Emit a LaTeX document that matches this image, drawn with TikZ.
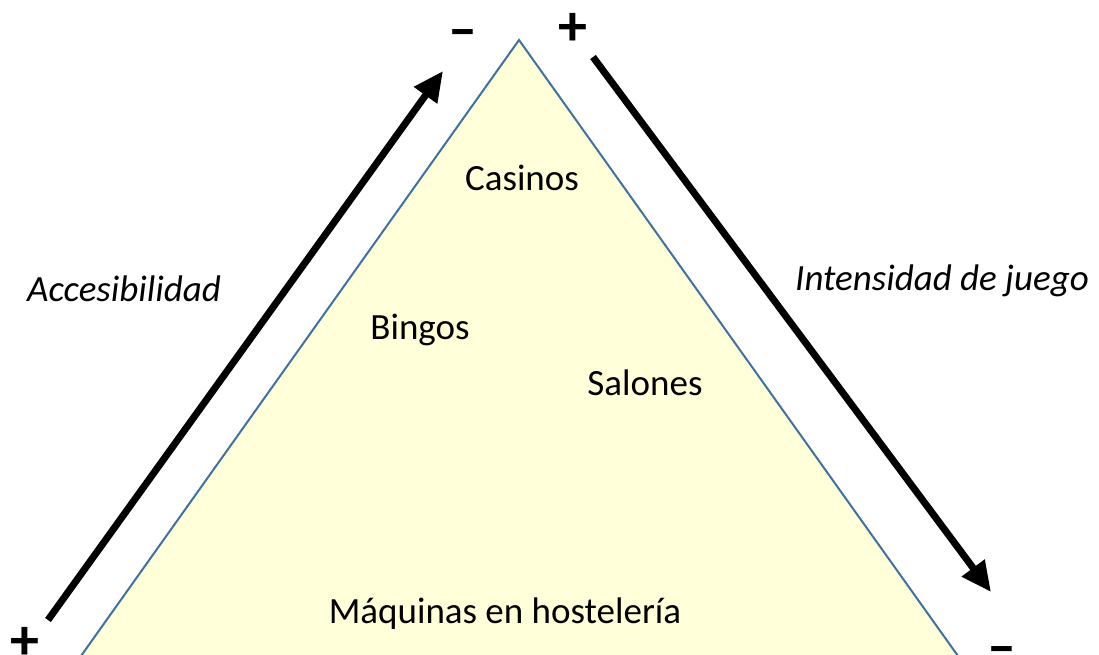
\documentclass[tikz,border=0pt]{standalone}
\usepackage{fontspec}
\setmainfont{Carlito}
\usetikzlibrary{arrows.meta}
\begin{document}
\begin{tikzpicture}[x=1pt,y=-1pt,
  lbl/.style={font=\fontsize{37}{44}\selectfont, inner sep=0pt},
  axislbl/.style={font=\fontsize{37}{44}\selectfont\itshape, inner sep=0pt},
  sign/.style={font=\fontsize{58}{64}\selectfont\bfseries, inner sep=0pt},
  bigarrow/.style={line width=7pt, -{Triangle[length=30pt,width=27pt]}},
  tri/.style={draw={rgb,255:red,65;green,113;blue,156}, line width=2pt, fill={rgb,255:red,255;green,255;blue,217}}]
\useasboundingbox (0,0) rectangle (1099,655);
\coordinate (apex) at (519,40);
\coordinate (bl) at (71,670);
\coordinate (br) at (968,670);
\begin{scope}
\clip (0,0) rectangle (1099,655);
\draw[tri] (bl) -- (apex) -- (br) -- cycle;
\end{scope}
\node[lbl] (casinos) at (522,178) {Casinos};
\node[lbl] (bingos) at (420,330) {Bingos};
\node[lbl] (salones) at (645,383) {Salones};
\node[lbl] (maq) at (505,614) {Máquinas en hostelería};
\node[axislbl] (acc) at (124,289) {Accesibilidad};
\node[axislbl] (int) at (942,281) {Intensidad de juego};
\coordinate (a1s) at (48,620);
\coordinate (a1e) at (443,71);
\coordinate (a2s) at (593,57);
\coordinate (a2e) at (991,592);
\draw[bigarrow] (a1s) -- (a1e);
\draw[bigarrow] (a2s) -- (a2e);
\node[sign] (mtop) at (463,39) {–};
\node[sign] (ptop) at (573,29) {+};
\node[sign] (pbot) at (25,643) {+};
\node[sign] (mbot) at (1002,656) {–};
\end{tikzpicture}
\end{document}
